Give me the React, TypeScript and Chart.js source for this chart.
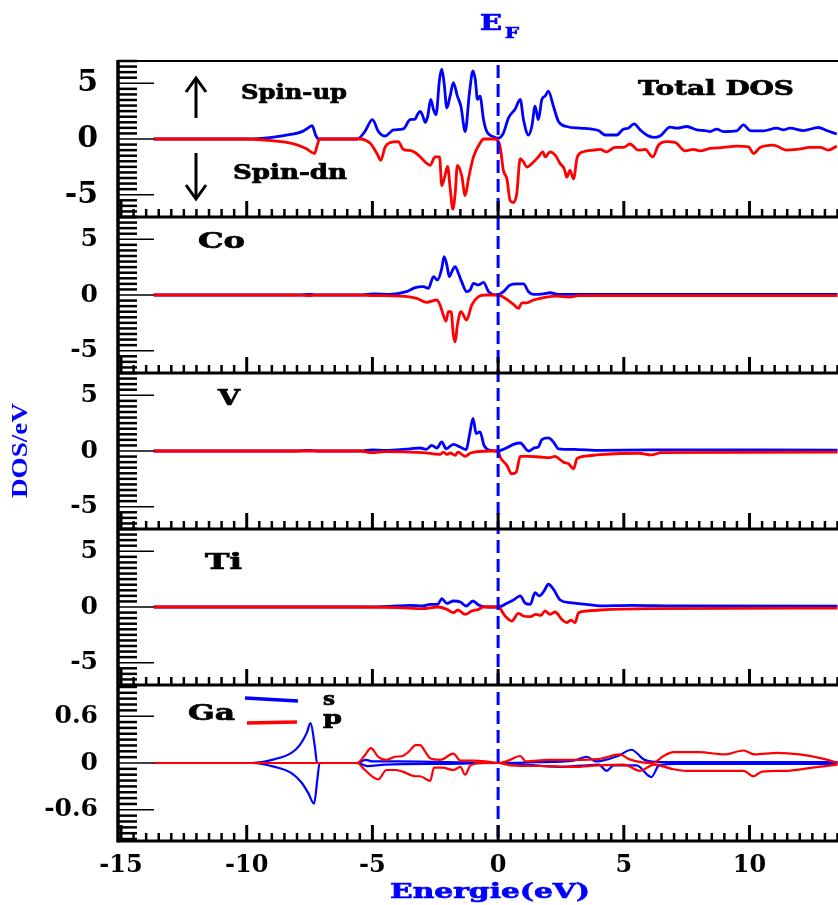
import { useEffect, useRef } from 'react';
import { Chart, registerables } from 'chart.js';

Chart.register(...registerables);

type Pt = [number, number];

// ---- axes / ticks ----
const X_MIN = -15.12;
const X_MAX = 13.52;
const X_TICKS = [-15, -10, -5, 0, 5, 10];
const DOS_TICKS = [-5, 0, 5];
const GA_TICKS = [-0.6, 0, 0.6];
const FERMI = 0;

const BLUE = '#0000ff';
const RED = '#ff0000';

// ---- Total DOS ----
const totalUp: Pt[] = [[-13.7,0],[-10,0],[-9.0,0.15],[-8.2,0.43],[-7.8,0.66],[-7.55,1.0],[-7.4,1.2],[-7.25,0.3],[-7.15,0],[-5.6,0],[-5.3,0.67],[-5.0,1.73],[-4.76,0.67],[-4.49,0.27],[-4.16,0.82],[-3.77,0.91],[-3.5,1.73],[-3.3,1.79],[-3.21,2.18],[-3.1,2.48],[-3.0,2.09],[-2.9,1.49],[-2.8,2.03],[-2.68,3.55],[-2.57,2.64],[-2.47,2.18],[-2.33,5.36],[-2.24,6.27],[-2.15,5.06],[-2.04,2.79],[-1.91,3.85],[-1.78,5.06],[-1.62,3.85],[-1.48,2.94],[-1.31,0.67],[-1.14,4.15],[-1.0,6.12],[-0.91,5.36],[-0.82,3.55],[-0.72,3.85],[-0.58,1.73],[-0.45,0.67],[-0.19,0.21],[0,0.06],[0.21,0.52],[0.41,1.88],[0.68,2.7],[0.88,3.55],[1.01,1.73],[1.21,0.36],[1.34,1.12],[1.47,2.94],[1.6,1.73],[1.74,3.55],[1.87,3.85],[2.0,4.3],[2.2,2.94],[2.4,1.58],[2.73,1.12],[3.26,0.97],[3.66,0.91],[3.99,0.76],[4.26,0.36],[4.72,0.36],[4.98,0.88],[5.18,0.97],[5.41,1.36],[5.65,0.82],[5.91,0.36],[6.18,0.15],[6.44,0.27],[6.84,1.06],[7.11,0.97],[7.51,1.12],[7.9,0.82],[8.23,0.76],[8.43,0.67],[8.7,0.88],[8.96,0.67],[9.49,0.73],[9.76,1.27],[10.02,0.76],[10.55,0.73],[11.08,0.97],[11.35,0.82],[11.61,0.97],[12.14,0.76],[12.74,1.03],[13.07,0.76],[13.47,0.45]];
const totalDn: Pt[] = [[-13.7,0],[-10,0],[-9.0,-0.15],[-8.2,-0.39],[-7.64,-0.85],[-7.3,-1.3],[-7.2,-0.6],[-7.1,0],[-5.5,0],[-5.09,-0.39],[-4.82,-1.3],[-4.67,-1.91],[-4.49,-0.7],[-4.3,-0.33],[-3.97,-0.24],[-3.77,-0.94],[-3.43,-1.06],[-3.17,-1.45],[-2.9,-2.06],[-2.7,-2.36],[-2.51,-1.61],[-2.33,-1.61],[-2.24,-4.18],[-2.11,-3.27],[-2.01,-2.45],[-1.91,-4.33],[-1.8,-6.3],[-1.71,-4.94],[-1.62,-2.36],[-1.45,-3.27],[-1.31,-5.09],[-1.18,-3.58],[-0.98,-1.61],[-0.72,-0.39],[-0.58,0],[-0.12,0],[0.08,-0.7],[0.21,-2.82],[0.35,-3.58],[0.48,-5.55],[0.61,-5.7],[0.74,-4.94],[0.88,-1.76],[1.01,-2.06],[1.14,-2.52],[1.34,-2.21],[1.6,-1.61],[1.78,-1.15],[1.87,-1.61],[2.07,-1.15],[2.27,-1.45],[2.47,-2.21],[2.63,-2.67],[2.73,-3.42],[2.86,-2.82],[3.0,-3.58],[3.15,-1.61],[3.39,-1.15],[3.79,-1.0],[4.06,-0.94],[4.32,-1.15],[4.65,-0.76],[4.98,-0.76],[5.25,-0.45],[5.58,-1.0],[5.85,-0.94],[6.15,-1.61],[6.38,-0.55],[6.71,-0.24],[7.04,-0.3],[7.44,-1.06],[7.77,-0.94],[8.03,-1.06],[8.43,-0.85],[8.96,-0.76],[9.49,-0.64],[9.96,-0.7],[10.16,-1.3],[10.42,-0.76],[10.95,-0.55],[11.48,-1.0],[11.88,-0.94],[12.41,-0.76],[12.81,-0.76],[13.14,-1.0],[13.47,-0.64]];

// ---- Co ----
const coUp: Pt[] = [[-13.7,0],[-8,0],[-7.5,0.05],[-7.2,0],[-5.5,0],[-4.96,0.1],[-4.3,0.05],[-3.65,0.3],[-3.3,0.66],[-2.97,0.75],[-2.77,0.6],[-2.57,1.65],[-2.41,1.35],[-2.24,2.4],[-2.15,3.45],[-2.04,2.7],[-1.94,1.65],[-1.84,2.1],[-1.71,2.55],[-1.58,1.95],[-1.45,1.2],[-1.25,0.3],[-1.11,0.45],[-0.98,1.05],[-0.78,0.9],[-0.58,1.14],[-0.38,0.3],[-0.05,0],[0.21,0.3],[0.48,0.9],[0.74,0.99],[1.01,0.99],[1.21,0.3],[1.41,0.05],[1.8,0.1],[2.07,0.2],[2.4,0.05],[4,0.05],[8,0.05],[13.5,0.05]];
const coDn: Pt[] = [[-13.7,0],[-8,0],[-7.5,-0.05],[-7.2,0],[-5.5,0],[-5,-0.05],[-3.9,-0.1],[-3.24,-0.3],[-2.84,-0.66],[-2.44,-0.45],[-2.31,-0.9],[-2.18,-1.8],[-2.07,-2.34],[-1.98,-1.5],[-1.87,-1.5],[-1.78,-3.6],[-1.71,-4.2],[-1.62,-2.7],[-1.48,-1.5],[-1.25,-2.25],[-1.05,-0.9],[-0.78,-0.15],[-0.5,0],[0,0],[0.35,-0.4],[0.61,-0.84],[0.81,-1.2],[0.95,-0.7],[1.14,-0.7],[1.41,-0.45],[1.81,-0.24],[2.3,-0.1],[2.86,-0.18],[3.2,-0.05],[13.5,-0.05]];

// ---- V ----
const vUp: Pt[] = [[-13.7,0],[-8,0],[-7.5,0.05],[-7.2,0],[-5.5,0],[-5,0.1],[-4.5,0.05],[-3.5,0.2],[-3.1,0.27],[-2.86,0.15],[-2.64,0.5],[-2.44,0.27],[-2.24,0.81],[-2.07,0.2],[-1.78,0.6],[-1.51,0.36],[-1.27,0.12],[-1.14,1.41],[-1.0,2.92],[-0.87,1.57],[-0.72,1.72],[-0.56,0.5],[-0.3,0.05],[0,0],[0.35,0.3],[0.61,0.6],[0.88,0.72],[1.21,0],[1.47,0.3],[1.6,0.36],[1.74,1.02],[2.0,1.17],[2.2,0.81],[2.4,0.2],[3.0,0.15],[4.06,0.06],[6,0.1],[13.5,0.08]];
const vDn: Pt[] = [[-13.7,0],[-8,0],[-5.5,0],[-5.0,-0.15],[-4.5,-0.05],[-3.0,-0.15],[-2.31,-0.3],[-2.17,-0.1],[-2.04,-0.3],[-1.9,-0.18],[-1.71,-0.39],[-1.6,-0.1],[-1.31,-0.48],[-1.1,-0.18],[-0.3,0],[0,0],[0.08,-0.54],[0.35,-1.29],[0.54,-2.04],[0.72,-1.9],[0.88,-0.48],[1.2,-0.48],[1.67,-0.54],[2.07,-0.6],[2.25,-0.48],[2.6,-1.0],[2.8,-1.14],[3.0,-1.6],[3.14,-0.69],[3.53,-0.45],[4.06,-0.33],[5.6,-0.2],[6.1,-0.35],[6.5,-0.15],[13.5,-0.1]];

// ---- Ti ----
const tiUp: Pt[] = [[-13.7,0],[-8,0],[-5.5,0],[-4.3,0.05],[-3.5,0.15],[-3.0,0.09],[-2.7,0.24],[-2.4,0.24],[-2.24,0.75],[-2.04,0.33],[-1.78,0.54],[-1.5,0.45],[-1.27,0.09],[-1.0,0.54],[-0.78,0.18],[-0.4,0],[0,0],[0.35,0.33],[0.61,0.63],[0.88,0.99],[1.08,0.33],[1.28,0.24],[1.47,1.29],[1.64,0.99],[1.83,1.44],[2.0,2.04],[2.2,1.6],[2.47,0.63],[2.86,0.39],[3.5,0.24],[4.06,0.1],[5.3,0.15],[7,0.1],[13.5,0.08]];
const tiDn: Pt[] = [[-13.7,0],[-8,0],[-5.5,0],[-4.0,-0.05],[-3.0,-0.15],[-2.4,0],[-2.04,-0.21],[-1.78,-0.51],[-1.6,-0.27],[-1.31,-0.66],[-1.05,-0.36],[-0.78,-0.21],[-0.6,0],[0,0],[0.28,-0.81],[0.54,-1.26],[0.81,-0.57],[1.0,-0.81],[1.28,-0.87],[1.5,-0.66],[1.7,-0.75],[1.87,-0.36],[2.07,-0.66],[2.27,-0.45],[2.53,-1.11],[2.73,-1.41],[2.9,-1.17],[3.06,-1.41],[3.2,-0.51],[3.53,-0.36],[4.06,-0.27],[6,-0.15],[13.5,-0.1]];

// ---- Ga (s and p) ----
const gaSUp: Pt[] = [[-13.7,0],[-9.8,0],[-8.88,0.05],[-8.22,0.13],[-7.89,0.23],[-7.62,0.38],[-7.46,0.51],[-7.29,0.21],[-7.2,0],[-5.6,0],[-5.27,0.04],[-5.0,0.02],[-4.0,0.02],[-2,0.01],[0,0],[1.5,0.01],[3.0,0.03],[3.53,0.08],[3.9,0.02],[4.77,0.09],[5.3,0.17],[5.83,0.04],[6.5,0.01],[13.5,0.01]];
const gaSDn: Pt[] = [[-13.7,0],[-9.8,0],[-8.88,-0.05],[-8.22,-0.13],[-7.82,-0.25],[-7.56,-0.38],[-7.32,-0.52],[-7.19,-0.21],[-7.1,0],[-5.6,0],[-5.2,-0.04],[-4.5,-0.02],[-2,-0.01],[0,0],[2.46,-0.05],[3.5,-0.03],[4.0,-0.02],[4.32,-0.1],[4.6,-0.03],[5.5,-0.03],[6.1,-0.18],[6.4,-0.03],[7,-0.01],[13.5,-0.01]];
const gaPUp: Pt[] = [[-13.7,0],[-5.6,0],[-5.3,0.1],[-5.06,0.19],[-4.77,0.08],[-4.44,0.04],[-4.1,0.08],[-3.8,0.09],[-3.54,0.15],[-3.28,0.23],[-3.1,0.23],[-2.95,0.17],[-2.7,0.06],[-2.3,0.04],[-1.78,0.12],[-1.5,0.03],[-1.0,0.03],[-0.5,0.02],[0,0],[0.4,0.03],[0.88,0.09],[1.1,0.02],[2,0.04],[3,0.04],[4,0.05],[4.85,0.11],[5.2,0.05],[6.16,0.0],[6.58,0.09],[6.98,0.14],[8,0.14],[9,0.11],[9.76,0.16],[10.2,0.11],[11.1,0.13],[12,0.11],[13,0.05],[13.5,0.0]];
const gaPDn: Pt[] = [[-13.7,0],[-5.6,0],[-5.3,-0.09],[-4.77,-0.21],[-4.44,-0.09],[-4.1,-0.09],[-3.8,-0.11],[-3.28,-0.17],[-3.1,-0.17],[-2.7,-0.23],[-2.55,-0.06],[-2.2,-0.06],[-1.78,-0.09],[-1.5,-0.05],[-1.31,-0.15],[-1.1,-0.03],[-0.6,0],[0,0],[0.5,-0.03],[2,-0.04],[3,-0.05],[4,-0.03],[5,-0.02],[5.65,-0.1],[6.2,-0.02],[6.98,-0.08],[7.5,-0.1],[9,-0.1],[9.76,-0.1],[10.16,-0.17],[10.5,-0.11],[11.5,-0.1],[12.5,-0.06],[13.5,-0.02]];

type Panel = { id: string; min: number; max: number; ticks: number[]; minor: number; font: number; series: { pts: Pt[]; color: string; width: number }[] };

const PANELS: Panel[] = [
  { id: 'yTot', min: -7, max: 7, ticks: DOS_TICKS, minor: 0.5, font: 30, series: [{ pts: totalUp, color: BLUE, width: 2.8 }, { pts: totalDn, color: RED, width: 2.8 }] },
  { id: 'yCo', min: -7, max: 7, ticks: DOS_TICKS, minor: 0.5, font: 25, series: [{ pts: coUp, color: BLUE, width: 2.8 }, { pts: coDn, color: RED, width: 2.8 }] },
  { id: 'yV', min: -7, max: 7, ticks: DOS_TICKS, minor: 0.5, font: 25, series: [{ pts: vUp, color: BLUE, width: 2.8 }, { pts: vDn, color: RED, width: 2.8 }] },
  { id: 'yTi', min: -7, max: 7, ticks: DOS_TICKS, minor: 0.5, font: 25, series: [{ pts: tiUp, color: BLUE, width: 2.8 }, { pts: tiDn, color: RED, width: 2.8 }] },
  { id: 'yGa', min: -1, max: 1, ticks: GA_TICKS, minor: 0.075, font: 25, series: [{ pts: gaSUp, color: BLUE, width: 2.2 }, { pts: gaSDn, color: BLUE, width: 2.2 }, { pts: gaPUp, color: RED, width: 2.2 }, { pts: gaPDn, color: RED, width: 2.2 }] },
];

type Label = { text: string; x: number; y: number; size: number; w: number; color: string; family?: string };
const LABELS: Label[] = [
  { text: 'Spin-up', x: 241, y: 99, size: 20, w: 106, color: '#000' },
  { text: 'Spin-dn', x: 233, y: 179, size: 20, w: 114, color: '#000' },
  { text: 'Total DOS', x: 638, y: 95, size: 20, w: 156, color: '#000' },
  { text: 'Co', x: 198, y: 248, size: 22, w: 47, color: '#000' },
  { text: 'V', x: 218, y: 405, size: 22, w: 22, color: '#000' },
  { text: 'Ti', x: 205, y: 569, size: 22, w: 37, color: '#000' },
  { text: 'Ga', x: 188, y: 720, size: 22, w: 47, color: '#000' },
  { text: 's', x: 323, y: 705, size: 19, w: 12, color: '#000' },
  { text: 'p', x: 323, y: 724, size: 19, w: 19, color: '#000' },
  { text: 'E', x: 480, y: 30, size: 23, w: 22, color: BLUE },
  { text: 'F', x: 505, y: 38, size: 15, w: 14, color: BLUE },
  { text: 'Energie(eV)', x: 390, y: 898, size: 21, w: 200, color: BLUE },
];

function stretchText(ctx: CanvasRenderingContext2D, l: Label) {
  ctx.save();
  ctx.font = `bold ${l.size}px ${l.family || '"DejaVu Serif", serif'}`;
  ctx.fillStyle = l.color;
  ctx.strokeStyle = l.color;
  ctx.lineWidth = 0.7;
  ctx.textAlign = 'left';
  ctx.textBaseline = 'alphabetic';
  const w = ctx.measureText(l.text).width;
  ctx.translate(l.x, l.y);
  ctx.scale(l.w / w, 1);
  ctx.fillText(l.text, 0, 0);
  ctx.strokeText(l.text, 0, 0);
  ctx.restore();
}

function seg(ctx: CanvasRenderingContext2D, x1: number, y1: number, x2: number, y2: number) {
  ctx.beginPath();
  ctx.moveTo(x1, y1);
  ctx.lineTo(x2, y2);
  ctx.stroke();
}

const decor = {
  id: 'decor',
  afterDatasetsDraw(chart: any) {
    const ctx: CanvasRenderingContext2D = chart.ctx;
    const a = chart.chartArea;
    const xs = chart.scales.x;
    ctx.save();
    // Fermi level
    const xf = xs.getPixelForValue(FERMI);
    ctx.strokeStyle = BLUE;
    ctx.lineWidth = 3;
    ctx.setLineDash([13, 6]);
    seg(ctx, xf, a.top + 4, xf, a.bottom - 4);
    ctx.setLineDash([]);
    ctx.strokeStyle = '#000';
    ctx.lineCap = 'butt';
    for (const p of PANELS) {
      const ys = chart.scales[p.id];
      // bottom ticks (inward)
      for (let k = Math.ceil(X_MIN * 2); k <= Math.floor(X_MAX * 2); k++) {
        const px = xs.getPixelForValue(k / 2);
        const major = k % 10 === 0;
        ctx.lineWidth = major ? 3 : 2.5;
        seg(ctx, px, ys.bottom, px, ys.bottom - (major ? 16 : 8));
      }
      // left ticks (inward)
      const n = Math.floor(p.max / p.minor + 1e-6);
      for (let k = -n; k <= n; k++) {
        const v = k * p.minor;
        const major = p.ticks.some((t) => Math.abs(t - v) < 1e-6);
        const py = ys.getPixelForValue(v);
        ctx.lineWidth = major ? 1.5 : 2.5;
        seg(ctx, a.left, py, a.left + (major ? 36 : 19), py);
      }
      ctx.lineWidth = 3;
      seg(ctx, a.left, ys.bottom, a.right, ys.bottom);
    }
    ctx.lineWidth = 2;
    seg(ctx, a.left, a.top, a.right, a.top);
    ctx.lineWidth = 3.5;
    seg(ctx, a.left, a.top - 1, a.left, a.bottom + 1.5);
    ctx.restore();
  },
  afterDraw(chart: any) {
    const ctx: CanvasRenderingContext2D = chart.ctx;
    ctx.save();
    for (const l of LABELS) stretchText(ctx, l);
    // spin arrows
    ctx.strokeStyle = '#000';
    ctx.lineWidth = 3;
    seg(ctx, 196, 118, 196, 80);
    ctx.beginPath(); ctx.moveTo(186, 92); ctx.lineTo(196, 78); ctx.lineTo(206, 92); ctx.stroke();
    seg(ctx, 196, 153, 196, 197);
    ctx.beginPath(); ctx.moveTo(186, 185); ctx.lineTo(196, 199); ctx.lineTo(206, 185); ctx.stroke();
    // Ga legend samples
    ctx.lineWidth = 3.5;
    ctx.strokeStyle = BLUE;
    seg(ctx, 245, 698, 298, 701);
    ctx.strokeStyle = RED;
    seg(ctx, 247, 723, 297, 722);
    // y axis title
    ctx.save();
    ctx.font = 'bold 23px "Liberation Serif", serif';
    ctx.fillStyle = BLUE;
    const t = 'DOS/eV';
    const w = ctx.measureText(t).width;
    ctx.translate(27, 498);
    ctx.rotate(-Math.PI / 2);
    ctx.scale(95 / w, 1);
    ctx.textBaseline = 'alphabetic';
    ctx.fillText(t, 0, 0);
    ctx.restore();
    ctx.restore();
  },
};

export default function App() {
  const ref = useRef<HTMLCanvasElement>(null);
  useEffect(() => {
    const datasets: any[] = [];
    for (const p of PANELS) {
      for (const s of p.series) {
        datasets.push({
          data: s.pts.map(([x, y]) => ({ x, y })),
          borderColor: s.color,
          backgroundColor: s.color,
          borderWidth: s.width,
          pointRadius: 0,
          fill: false,
          yAxisID: p.id,
          order: s.color === RED ? 0 : 1,
          cubicInterpolationMode: 'monotone',
        });
      }
    }
    const scales: any = {
      x: {
        type: 'linear',
        position: 'bottom',
        min: X_MIN,
        max: X_MAX,
        afterBuildTicks: (s: any) => { s.ticks = X_TICKS.map((v) => ({ value: v })); },
        afterFit: (s: any) => { s.height = 64; },
        grid: { display: false, drawTicks: false },
        border: { display: false },
        ticks: { color: '#000', autoSkip: false, maxRotation: 0, padding: 10, font: { family: '"DejaVu Serif", serif', weight: 'bold', size: 24 }, callback: (v: any) => String(v) },
      },
    };
    PANELS.forEach((p, i) => {
      scales[p.id] = {
        type: 'linear',
        position: 'left',
        stack: 'dos',
        stackWeight: 1,
        weight: PANELS.length - i,
        min: p.min,
        max: p.max,
        afterBuildTicks: (s: any) => { s.ticks = p.ticks.map((v) => ({ value: v })); },
        afterFit: (s: any) => { s.width = 118; },
        grid: { display: false, drawTicks: false },
        border: { display: false },
        ticks: { color: '#000', autoSkip: false, padding: 20, font: { family: '"DejaVu Serif", serif', weight: 'bold', size: p.font }, callback: (v: any) => String(v) },
      };
    });
    const chart = new Chart(ref.current as HTMLCanvasElement, {
      type: 'line',
      data: { datasets },
      options: {
        responsive: false,
        animation: false,
        devicePixelRatio: 1,
        parsing: false as any,
        normalized: true,
        layout: { padding: { top: 61, left: 0, right: 0, bottom: 0 } },
        plugins: { legend: { display: false }, tooltip: { enabled: false } },
        scales,
      } as any,
      plugins: [decor],
    });
    return () => chart.destroy();
  }, []);
  return (
    <div style={{ position: 'absolute', left: 0, top: 0, width: 838, height: 905, background: '#fff' }}>
      <canvas ref={ref} width={838} height={905} style={{ display: 'block', width: 838, height: 905 }} />
    </div>
  );
}
